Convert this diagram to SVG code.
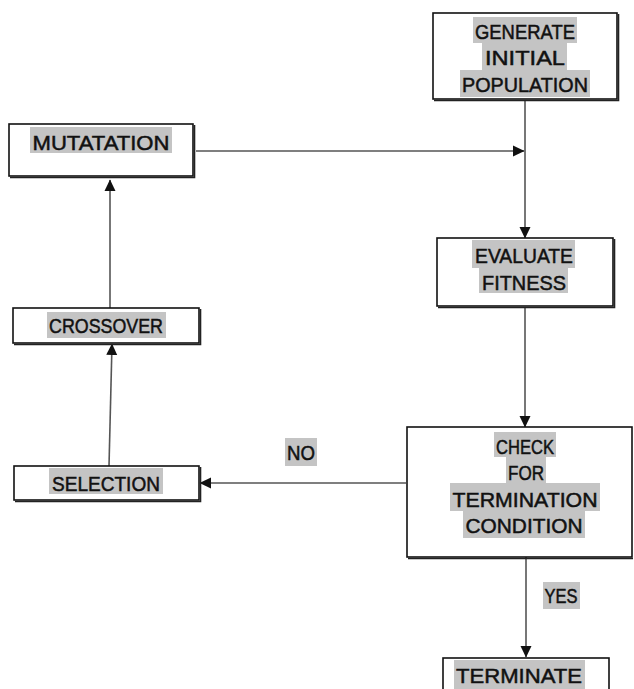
<svg xmlns="http://www.w3.org/2000/svg" width="634" height="689" viewBox="0 0 634 689">
<style>
.box{fill:#fff;stroke:#111;stroke-width:1.6}
.sh{fill:none;stroke:#222;stroke-width:1.6}
.hl{fill:#c4c4c4}
.t{font-family:"Liberation Sans",Arial,sans-serif;font-size:21px;fill:#111;stroke:#111;stroke-width:0.5;text-anchor:middle}
.c{stroke:#555;stroke-width:1.6;fill:none;marker-end:url(#ah)}
</style>
<defs>
<marker id="ah" markerUnits="userSpaceOnUse" markerWidth="12" markerHeight="12" viewBox="0 0 12 12" refX="11" refY="6" orient="auto">
<path d="M0,0.5 L11.5,6 L0,11.5 Z" fill="#111"/>
</marker>
</defs>
<rect width="634" height="689" fill="#fff"/>
<g id="connectors">
<line class="c" x1="525" y1="100" x2="525" y2="238"/>
<line class="c" x1="196" y1="151" x2="524" y2="151"/>
<line class="c" x1="525" y1="307" x2="525" y2="427"/>
<line class="c" x1="406" y1="483" x2="200" y2="483"/>
<line class="c" x1="109" y1="466" x2="112" y2="344"/>
<line class="c" x1="110" y1="308" x2="110" y2="180"/>
<line class="c" x1="526" y1="540" x2="526" y2="657"/>
</g>
<g id="generate">
<rect class="box" x="433" y="13" width="184" height="86"/>
<path class="sh" d="M618.5,14 V100.5 H434"/>
<rect class="hl" x="473" y="17" width="104" height="26"/>
<rect class="hl" x="482" y="43" width="85" height="27"/>
<rect class="hl" x="460" y="70" width="130" height="27"/>
<text class="t" x="525" y="39" textLength="100" lengthAdjust="spacingAndGlyphs">GENERATE</text>
<text class="t" x="525" y="65" textLength="80" lengthAdjust="spacingAndGlyphs">INITIAL</text>
<text class="t" x="525" y="92" textLength="126" lengthAdjust="spacingAndGlyphs">POPULATION</text>
</g>
<g id="mutatation">
<rect class="box" x="9" y="124" width="184" height="52"/>
<path class="sh" d="M194.5,125 V177.5 H10"/>
<rect class="hl" x="30" y="127" width="142" height="26"/>
<text class="t" x="101" y="150" textLength="137" lengthAdjust="spacingAndGlyphs">MUTATATION</text>
</g>
<g id="evaluate">
<rect class="box" x="437" y="238" width="176" height="68"/>
<path class="sh" d="M614.5,239 V307.5 H438"/>
<rect class="hl" x="472" y="240" width="103" height="28"/>
<rect class="hl" x="479" y="268" width="89" height="25"/>
<text class="t" x="524" y="263" textLength="98" lengthAdjust="spacingAndGlyphs">EVALUATE</text>
<text class="t" x="524" y="290" textLength="84" lengthAdjust="spacingAndGlyphs">FITNESS</text>
</g>
<g id="crossover">
<rect class="box" x="13" y="308" width="186" height="35"/>
<path class="sh" d="M200.5,309 V344.5 H14"/>
<rect class="hl" x="47" y="312" width="119" height="26"/>
<text class="t" x="106" y="333" textLength="114" lengthAdjust="spacingAndGlyphs">CROSSOVER</text>
</g>
<g id="selection">
<rect class="box" x="14" y="466" width="185" height="34"/>
<path class="sh" d="M200.5,467 V501.5 H15"/>
<rect class="hl" x="49" y="468" width="114" height="26"/>
<text class="t" x="106" y="491" textLength="108" lengthAdjust="spacingAndGlyphs">SELECTION</text>
</g>
<g id="check">
<rect class="box" x="407" y="427" width="225" height="130"/>
<path class="sh" d="M408,558.5 H633"/>
<rect class="hl" x="494" y="432" width="62" height="25"/>
<rect class="hl" x="506" y="457" width="40" height="26"/>
<rect class="hl" x="450" y="483" width="150" height="28"/>
<rect class="hl" x="463" y="511" width="122" height="27"/>
<text class="t" x="525" y="454" textLength="58" lengthAdjust="spacingAndGlyphs">CHECK</text>
<text class="t" x="526" y="480" textLength="36" lengthAdjust="spacingAndGlyphs">FOR</text>
<text class="t" x="525" y="507" textLength="145" lengthAdjust="spacingAndGlyphs">TERMINATION</text>
<text class="t" x="524" y="533" textLength="117" lengthAdjust="spacingAndGlyphs">CONDITION</text>
</g>
<g id="terminate">
<rect class="box" x="443" y="658" width="166" height="40"/>
<rect class="hl" x="454" y="660" width="131" height="30"/>
<text class="t" x="519" y="683" textLength="126" lengthAdjust="spacingAndGlyphs">TERMINATE</text>
</g>
<g id="labels">
<rect class="hl" x="285" y="438" width="32" height="28"/>
<text class="t" x="301" y="460" textLength="28" lengthAdjust="spacingAndGlyphs">NO</text>
<rect class="hl" x="543" y="582" width="37" height="27"/>
<text class="t" x="561" y="603" textLength="33" lengthAdjust="spacingAndGlyphs">YES</text>
</g>
</svg>
